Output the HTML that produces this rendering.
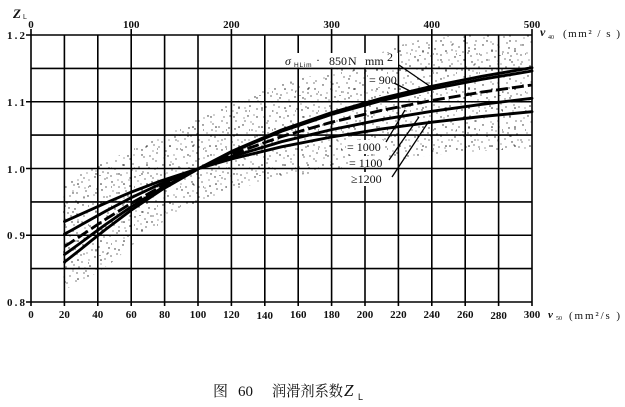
<!DOCTYPE html>
<html>
<head>
<meta charset="utf-8">
<style>
  html, body { margin: 0; padding: 0; background: #fff; }
  svg { display: block; }
  .num { font-family: "Liberation Serif", serif; font-weight: bold; font-size: 11px; fill: #111; }
  .lbl { font-family: "Liberation Serif", serif; font-size: 12px; fill: #111; }
  .cap { font-family: "Liberation Serif", "Noto Serif CJK SC", "Noto Sans CJK SC", serif; fill: #111; }
</style>
</head>
<body>
<svg width="625" height="407" viewBox="0 0 625 407" xmlns="http://www.w3.org/2000/svg">
  <defs>
    <pattern id="p1" width="40" height="40" patternUnits="userSpaceOnUse">
      <g fill="#222">
        <circle cx="3" cy="5" r="0.7"/><circle cx="11" cy="2" r="0.55"/><circle cx="19" cy="7" r="0.65"/>
        <circle cx="27" cy="3" r="0.6"/><circle cx="35" cy="9" r="0.7"/><circle cx="7" cy="13" r="0.55"/>
        <circle cx="15" cy="17" r="0.7"/><circle cx="23" cy="12" r="0.6"/><circle cx="31" cy="16" r="0.65"/>
        <circle cx="38" cy="20" r="0.55"/><circle cx="2" cy="22" r="0.6"/><circle cx="10" cy="26" r="0.75"/>
        <circle cx="18" cy="21" r="0.55"/><circle cx="26" cy="27" r="0.65"/><circle cx="34" cy="25" r="0.6"/>
        <circle cx="6" cy="31" r="0.65"/><circle cx="14" cy="35" r="0.55"/><circle cx="22" cy="30" r="0.7"/>
        <circle cx="30" cy="36" r="0.6"/><circle cx="37" cy="33" r="0.65"/><circle cx="4" cy="38" r="0.55"/>
        <circle cx="12" cy="10" r="0.6"/><circle cx="20" cy="15.5" r="0.55"/><circle cx="29" cy="8" r="0.7"/>
        <circle cx="36" cy="1" r="0.6"/><circle cx="9" cy="20" r="0.55"/><circle cx="17" cy="29" r="0.65"/>
        <circle cx="25" cy="19" r="0.6"/><circle cx="33" cy="31" r="0.55"/><circle cx="1" cy="15" r="0.65"/>
        <circle cx="13" cy="4" r="0.6"/><circle cx="21" cy="24" r="0.55"/><circle cx="28" cy="13" r="0.65"/>
        <circle cx="39" cy="27" r="0.6"/><circle cx="8" cy="36" r="0.7"/><circle cx="16" cy="11" r="0.55"/>
        <circle cx="24" cy="37" r="0.6"/><circle cx="32" cy="22" r="0.7"/><circle cx="5" cy="28" r="0.55"/>
        <circle cx="37" cy="14" r="0.6"/>
      </g>
    </pattern>
    <pattern id="p2" width="23" height="19" patternUnits="userSpaceOnUse">
      <circle cx="4" cy="3" r="0.7" fill="#222"/>
      <circle cx="15" cy="7" r="0.6" fill="#222"/>
      <circle cx="9" cy="13" r="0.8" fill="#222"/>
      <circle cx="19.5" cy="16" r="0.5" fill="#222"/>
    </pattern>
    <clipPath id="band">
      <polygon points="63,183 80,174 97,165 115,157 131,150 150,142 164,136 180,128 198,119 215,111 231,103 250,96 265,90 285,83 298,79 315,75 332,71 350,65 365,59 385,51 398,46 420,40 440,37 460,35 532,35 532,148 500,150 465,152 432,155 398,160 365,165 332,170 298,175 265,182 231,190 198,203 180,211 164,221 150,231 131,246 115,260 97,273 80,283 63,290"/>
    </clipPath>
  </defs>

  <rect width="625" height="407" fill="#fff"/>

  <!-- stippled band -->
  <g clip-path="url(#band)">
    <rect x="31" y="35" width="501" height="267" fill="url(#p1)"/>
    <rect x="31" y="35" width="501" height="267" fill="url(#p2)"/>
  </g>

  <!-- grid -->
  <g stroke="#000" stroke-width="1.6" fill="none">
    <line x1="64.4" y1="35" x2="64.4" y2="306"/>
    <line x1="97.8" y1="35" x2="97.8" y2="306"/>
    <line x1="131.2" y1="29" x2="131.2" y2="306"/>
    <line x1="164.6" y1="35" x2="164.6" y2="306"/>
    <line x1="198" y1="35" x2="198" y2="306"/>
    <line x1="231.4" y1="29" x2="231.4" y2="306"/>
    <line x1="264.8" y1="35" x2="264.8" y2="306"/>
    <line x1="298.2" y1="35" x2="298.2" y2="306"/>
    <line x1="331.6" y1="29" x2="331.6" y2="306"/>
    <line x1="365" y1="35" x2="365" y2="306"/>
    <line x1="398.4" y1="35" x2="398.4" y2="306"/>
    <line x1="431.8" y1="29" x2="431.8" y2="306"/>
    <line x1="465.2" y1="35" x2="465.2" y2="306"/>
    <line x1="498.6" y1="35" x2="498.6" y2="306"/>
    <line x1="532" y1="29" x2="532" y2="306"/>
    <line x1="31" y1="29" x2="31" y2="306"/>

    <line x1="26" y1="35" x2="532" y2="35"/>
    <line x1="31" y1="68.4" x2="532" y2="68.4"/>
    <line x1="26" y1="101.75" x2="532" y2="101.75"/>
    <line x1="31" y1="135.1" x2="532" y2="135.1"/>
    <line x1="26" y1="168.5" x2="532" y2="168.5"/>
    <line x1="31" y1="201.9" x2="532" y2="201.9"/>
    <line x1="26" y1="235.25" x2="532" y2="235.25"/>
    <line x1="31" y1="268.6" x2="532" y2="268.6"/>
    <line x1="26" y1="302" x2="532" y2="302"/>
  </g>

  <!-- curves -->
  <g fill="none" stroke="#000" stroke-width="2.9" stroke-linejoin="round" stroke-linecap="round">
    <polyline points="64.5,262.0 71.1,256.9 81.1,249.0 91.1,240.9 106.2,229.0 131.2,210.2 161.3,190.0 198.8,168.5 231.4,151.5 281.5,130.0 331.6,112.6 381.7,98.3 431.8,86.3 481.9,76.3 532,67.7"/>
    <polyline points="64.5,254.5 71.1,249.8 81.1,242.5 91.1,235.1 106.2,224.1 131.2,206.8 161.3,188.3 198.8,168.5 231.4,152.1 281.5,131.3 331.6,114.4 381.7,100.6 431.8,89.0 481.9,79.3 532,71.0"/>
    <polyline stroke-dasharray="12 4" stroke-linecap="butt" points="64.5,246.5 71.1,242.3 81.1,235.6 91.1,228.9 106.2,218.9 131.2,203.3 161.3,186.5 198.8,168.5 231.4,154.5 281.5,136.6 331.6,122.2 381.7,110.3 431.8,100.5 481.9,92.1 532,85.0"/>
    <polyline points="64.5,234.0 71.1,230.5 81.1,224.9 91.1,219.2 106.2,210.9 131.2,197.7 161.3,183.6 198.8,168.5 231.4,156.7 281.5,141.7 331.6,129.6 381.7,119.6 431.8,111.3 481.9,104.3 532,98.3"/>
    <polyline points="64.5,221.5 71.1,218.6 81.1,214.1 91.1,209.6 106.2,202.8 131.2,192.1 161.3,180.7 198.8,168.5 231.4,159.0 281.5,146.8 331.6,137.0 381.7,128.9 431.8,122.2 481.9,116.5 532,111.7"/>
  </g>

  <!-- label boxes -->
  <g fill="#fff">
    <rect x="282" y="53" width="116" height="14.5"/>
    <rect x="368" y="74" width="29" height="13"/>
    <rect x="346" y="140" width="37" height="14"/>
    <rect x="348" y="156" width="37" height="11.5"/>
    <rect x="350" y="172" width="36" height="14"/>
  </g>

  <!-- leader lines -->
  <g stroke="#000" stroke-width="1.3" fill="none">
    <line x1="399" y1="65" x2="431" y2="87"/>
    <line x1="394" y1="83" x2="414" y2="93"/>
    <line x1="386" y1="142" x2="405" y2="110"/>
    <line x1="389" y1="160" x2="419" y2="117"/>
    <line x1="392" y1="177" x2="429" y2="121"/>
  </g>

  <!-- in-plot labels -->
  <text x="285" y="65" class="lbl" font-style="italic" font-size="13">σ</text>
  <text x="294" y="67" font-family="Liberation Sans, sans-serif" font-size="6.5" fill="#111" letter-spacing="0.8">HLim</text>
  <text x="316" y="64" class="lbl" font-size="9">·</text>
  <text x="329" y="65" class="lbl" font-size="12">850</text>
  <text x="348" y="65" class="lbl" font-size="13">N</text>
  <text x="365" y="65" class="lbl" font-size="12">mm</text>
  <text x="387" y="61" class="lbl" font-size="8">2</text>

  <text x="369" y="84" class="lbl" font-size="12">= 900</text>
  <text x="347" y="151" class="lbl" font-size="12">= 1000</text>
  <text x="349" y="167" class="lbl" font-size="12">= 1100</text>
  <text x="351" y="183" class="lbl" font-size="12">≥1200</text>

  <!-- Y axis labels -->
  <text x="7" y="39" class="num" textLength="18" lengthAdjust="spacing">1.2</text>
  <text x="7" y="106" class="num" textLength="18" lengthAdjust="spacing">1.1</text>
  <text x="7" y="173" class="num" textLength="18" lengthAdjust="spacing">1.0</text>
  <text x="7" y="239" class="num" textLength="18" lengthAdjust="spacing">0.9</text>
  <text x="7" y="306" class="num" textLength="18" lengthAdjust="spacing">0.8</text>

  <text x="13" y="18" font-family="Liberation Serif, serif" font-style="italic" font-weight="bold" font-size="13" fill="#111">Z</text>
  <text x="23" y="19" font-family="Liberation Sans, sans-serif" font-size="7" fill="#111">L</text>

  <!-- top axis labels -->
  <g class="num" text-anchor="middle">
    <text x="31" y="28">0</text>
    <text x="131.2" y="28">100</text>
    <text x="231.4" y="28">200</text>
    <text x="331.6" y="28">300</text>
    <text x="431.8" y="28">400</text>
    <text x="532" y="28">500</text>
  </g>

  <!-- bottom axis labels -->
  <g class="num" text-anchor="middle">
    <text x="31" y="318">0</text>
    <text x="64.4" y="318">20</text>
    <text x="97.8" y="318">40</text>
    <text x="131.2" y="318">60</text>
    <text x="164.6" y="318">80</text>
    <text x="198" y="318">100</text>
    <text x="231.4" y="318">120</text>
    <text x="264.8" y="319">140</text>
    <text x="298.2" y="318">160</text>
    <text x="331.6" y="318">180</text>
    <text x="365" y="318">200</text>
    <text x="398.4" y="318">220</text>
    <text x="431.8" y="318">240</text>
    <text x="465.2" y="318">260</text>
    <text x="498.6" y="319">280</text>
    <text x="532" y="318">300</text>
  </g>

  <!-- right axis titles -->
  <text x="540" y="36" font-family="Liberation Serif, serif" font-style="italic" font-weight="bold" font-size="12" fill="#111">ν</text>
  <text x="548" y="39" font-family="Liberation Serif, serif" font-size="6" fill="#111">40</text>
  <text x="563" y="37" font-family="Liberation Serif, serif" font-size="11" fill="#111" textLength="57" lengthAdjust="spacing">(mm² / s )</text>

  <text x="548" y="318" font-family="Liberation Serif, serif" font-style="italic" font-weight="bold" font-size="11" fill="#111">ν</text>
  <text x="556" y="320" font-family="Liberation Serif, serif" font-size="6" fill="#111">50</text>
  <text x="569" y="319" font-family="Liberation Serif, serif" font-size="11" fill="#111" textLength="51" lengthAdjust="spacing">(mm²/s )</text>

  <!-- caption -->
  <text x="213" y="396" class="cap" font-size="15">图</text>
  <text x="238" y="396" class="cap" font-size="15">60</text>
  <text x="272" y="396" class="cap" font-size="15" textLength="71" lengthAdjust="spacingAndGlyphs">润滑剂系数</text>
  <text x="344" y="396" font-family="Liberation Serif, serif" font-style="italic" font-size="17" fill="#111">Z</text>
  <text x="358" y="400" font-family="Liberation Sans, sans-serif" font-size="9" fill="#111">L</text>
</svg>
</body>
</html>
